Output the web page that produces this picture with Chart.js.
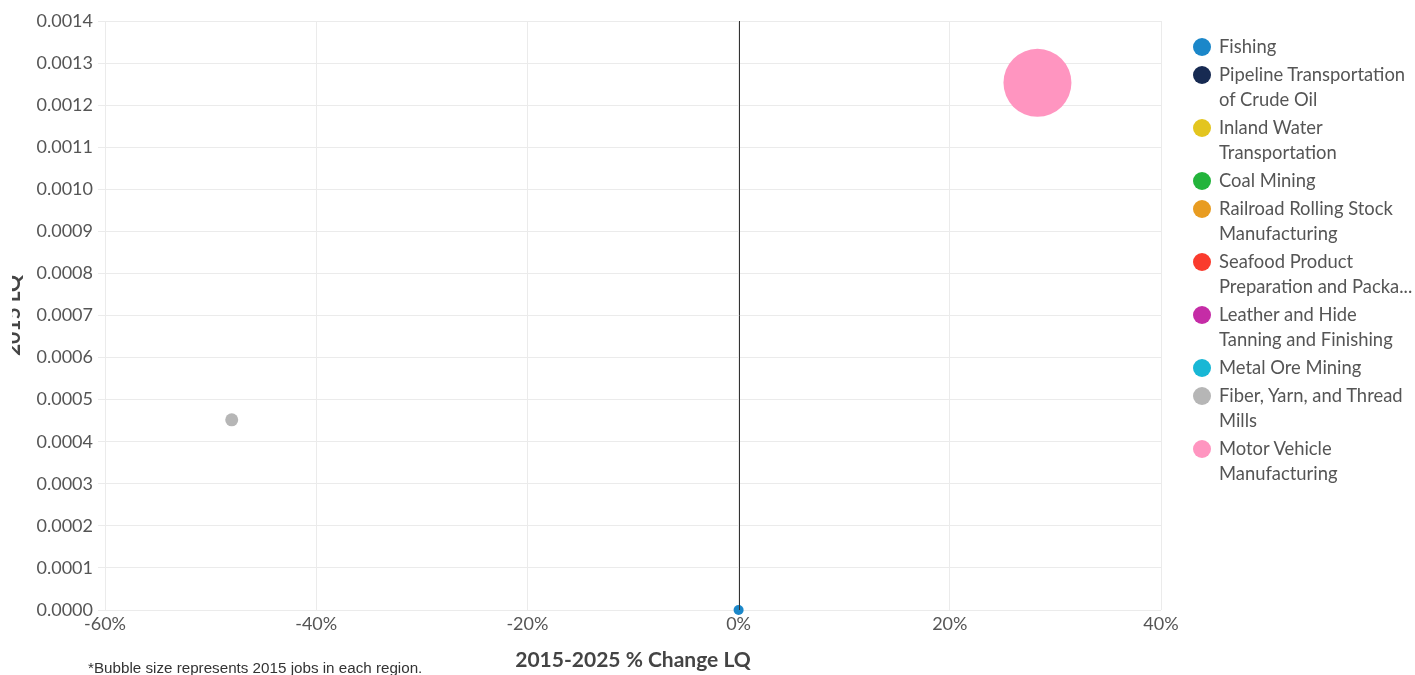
<!DOCTYPE html>
<html>
<head>
<meta charset="utf-8">
<script src="https://cdn.jsdelivr.net/npm/chart.js@4.4.1/dist/chart.umd.min.js"></script>
<style>
  html, body { margin: 0; padding: 0; background: #fff; overflow: hidden; }
  #clip { position: absolute; left: 12px; top: 0; width: 1403px; height: 675px; overflow: hidden; }
  #c { position: absolute; left: -12px; top: 0; }
  #legend { position: absolute; left: 1193px; top: 34px; width: 222px; font-family: Lato, "Noto Sans", sans-serif; font-size: 18.4px; color: #555; }
  .item { position: relative; padding-left: 26px; line-height: 25px; margin-bottom: 3px; width: 198px; }
  .dot { position: absolute; left: 0; top: 3.5px; width: 18px; height: 18px; border-radius: 50%; }
  #note { position: absolute; left: 88px; top: 659px; font-family: "Liberation Sans", Arial, sans-serif; font-size: 15.2px; color: #333; white-space: nowrap; }
</style>
</head>
<body>
<div id="clip">
  <canvas id="c" width="1415" height="675"></canvas>
</div>
<div id="legend"></div>
<div id="note">*Bubble size represents 2015 jobs in each region.</div>
<script>
// Series (industries)
const seriesNames = [
  "Fishing",
  "Pipeline Transportation of Crude Oil",
  "Inland Water Transportation",
  "Coal Mining",
  "Railroad Rolling Stock Manufacturing",
  "Seafood Product Preparation and Packa...",
  "Leather and Hide Tanning and Finishing",
  "Metal Ore Mining",
  "Fiber, Yarn, and Thread Mills",
  "Motor Vehicle Manufacturing"
];
const seriesColors = [
  "#1b87c9", "#172a52", "#e3c51f", "#23b43b", "#e89c21",
  "#fa3b2d", "#c52ca6", "#18b7d5", "#b6b6b6", "#ff95c0"
];
// 2015-2025 % change in LQ (x), 2015 LQ (y), bubble radius (2015 jobs)
const pctChange = [0, null, null, null, null, null, null, null, -48.0, 28.3];
const lq2015    = [0.0000, null, null, null, null, null, null, null, 0.000452, 0.001253];
const bubbleR   = [5, null, null, null, null, null, null, null, 6.5, 34];

const xTicks = [-60, -40, -20, 0, 20, 40];
const yTickStep = 0.0001;

const datasets = seriesNames.map((name, i) => ({
  label: name,
  data: pctChange[i] === null ? [] : [{ x: pctChange[i], y: lq2015[i], r: bubbleR[i] }],
  backgroundColor: seriesColors[i],
  borderColor: seriesColors[i],
  borderWidth: 0,
  hoverBorderWidth: 0,
  clip: false,
  order: i
}));

const tickFont = { family: "Lato, 'Noto Sans', sans-serif", size: 18 };
const titleFont = { family: "Lato, 'Noto Sans', sans-serif", size: 21, weight: "bold" };

// zero reference line drawn over the bubbles
const zeroLine = {
  id: "zeroLine",
  afterDatasetsDraw(chart) {
    const { ctx, chartArea, scales } = chart;
    const x = Math.round(scales.x.getPixelForValue(0)) + 0.5;
    ctx.save();
    ctx.strokeStyle = "#333";
    ctx.lineWidth = 1;
    ctx.beginPath();
    ctx.moveTo(x, chartArea.top);
    ctx.lineTo(x, chartArea.bottom);
    ctx.stroke();
    ctx.restore();
  }
};

const target = { left: 105, right: 1161, top: 21, bottom: 610 };

new Chart(document.getElementById("c"), {
  type: "bubble",
  data: { datasets },
  plugins: [zeroLine],
  options: {
    responsive: false,
    animation: false,
    layout: { autoPadding: false, padding: { left: 0, right: 1415 - target.right, top: target.top, bottom: 0 } },
    plugins: { legend: { display: false }, tooltip: { enabled: false } },
    scales: {
      x: {
        type: "linear",
        min: xTicks[0], max: xTicks[xTicks.length - 1],
        afterBuildTicks: (ax) => { ax.ticks = xTicks.map(v => ({ value: v })); },
        afterFit: (s) => { s.height = 675 - target.bottom; s.paddingLeft = 0; s.paddingRight = 0; },
        ticks: { font: tickFont, color: "#555", padding: 3, callback: v => v + "%" },
        grid: { color: "#ebebeb", lineWidth: 1, drawTicks: false },
        border: { display: false },
        title: { display: true, text: "2015-2025 % Change LQ", font: titleFont, color: "#444", padding: { top: 0, bottom: 2 } }
      },
      y: {
        type: "linear",
        min: 0, max: 0.0014,
        afterFit: (s) => { s.width = target.left; s.paddingTop = 0; s.paddingBottom = 0; },
        ticks: { stepSize: yTickStep, font: tickFont, color: "#555", padding: 5, callback: v => Number(v).toFixed(4) },
        grid: { color: "#ebebeb", lineWidth: 1, drawTicks: true, tickLength: 7 },
        border: { display: false },
        title: { display: true, text: "2015 LQ", font: titleFont, color: "#444", padding: { top: 1, bottom: 0 } }
      }
    }
  }
});

// HTML legend with wrapped labels
const lg = document.getElementById("legend");
seriesNames.forEach((name, i) => {
  const it = document.createElement("div");
  it.className = "item";
  const dot = document.createElement("span");
  dot.className = "dot";
  dot.style.background = seriesColors[i];
  it.appendChild(dot);
  it.appendChild(document.createTextNode(name));
  lg.appendChild(it);
});
</script>
</body>
</html>
